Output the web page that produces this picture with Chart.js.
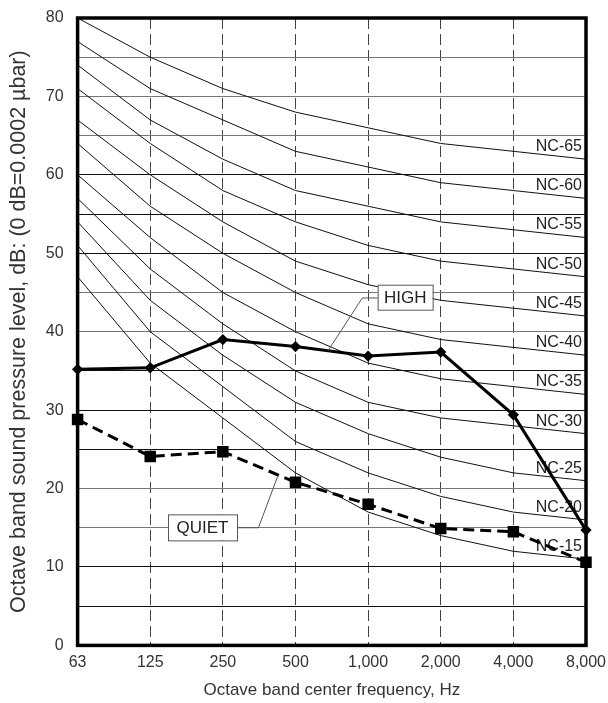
<!DOCTYPE html>
<html>
<head>
<meta charset="utf-8">
<script src="https://cdn.jsdelivr.net/npm/chart.js@4.4.1/dist/chart.umd.min.js"></script>
<style>
  body { margin: 0; background: #fff; }
  #chart { display: block; }
</style>
</head>
<body>
<canvas id="chart" width="608" height="703"></canvas>
<script>
const freqLabels = ["63", "125", "250", "500", "1,000", "2,000", "4,000", "8,000"];

// NC curves, dB per octave band
const nc15 = [47, 36, 29, 22, 17, 14, 12, 11];
const nc20 = [51, 40, 33, 26, 22, 19, 17, 16];
const nc25 = [54, 44, 37, 31, 27, 24, 22, 21];
const nc30 = [57, 48, 41, 35, 31, 29, 28, 27];
const nc35 = [60, 52, 45, 40, 36, 34, 33, 32];
const nc40 = [64, 56, 50, 45, 41, 39, 38, 37];
const nc45 = [67, 60, 54, 49, 46, 44, 43, 42];
const nc50 = [71, 64, 58, 54, 51, 49, 48, 47];
const nc55 = [74, 67, 62, 58, 56, 54, 53, 52];
const nc60 = [77, 71, 67, 63, 61, 59, 58, 57];
const nc65 = [80, 75, 71, 68, 66, 64, 63, 62];
const ncNames = ["NC-15", "NC-20", "NC-25", "NC-30", "NC-35", "NC-40", "NC-45", "NC-50", "NC-55", "NC-60", "NC-65"];
const ncCurves = [nc15, nc20, nc25, nc30, nc35, nc40, nc45, nc50, nc55, nc60, nc65];

// measured spectra
const highLevels = [35.2, 35.4, 39.0, 38.1, 36.9, 37.4, 29.4, 14.7];
const quietLevels = [28.8, 24.1, 24.7, 20.8, 18.0, 14.9, 14.5, 10.6];

const yTicks = [0, 10, 20, 30, 40, 50, 60, 70, 80];
const greyGrid = [15, 20, 40, 45, 65, 70, 75];

const datasets = [
    {
        label: "HIGH",
        data: highLevels,
        borderColor: "#000",
        backgroundColor: "#000",
        borderWidth: 3,
        pointStyle: "rectRot",
        pointRadius: 3.5,
        tension: 0,
    },
    {
        label: "QUIET",
        data: quietLevels,
        borderColor: "#000",
        backgroundColor: "#000",
        borderWidth: 3,
        borderDash: [11, 6],
        pointStyle: "rect",
        pointRadius: 6,
        tension: 0,
    },
];
ncCurves.forEach((curve, i) => {
    datasets.push({
        label: ncNames[i],
        data: curve,
        borderColor: "#111",
        borderWidth: 1,
        pointRadius: 0,
        tension: 0,
    });
});

// scale label overflow is handled by the layout padding below
function noEdgePadding(scale) {
    scale.paddingTop = 0;
    scale.paddingRight = 0;
    scale.paddingLeft = 0;
    scale.paddingBottom = 0;
}

// NC labels and call-out boxes
const annotate = {
    id: "annotate",
    beforeDatasetsDraw(chart) {
        const { ctx, chartArea, scales } = chart;
        ctx.save();
        ctx.font = "16px Arial";
        ctx.fillStyle = "#222";
        ctx.textAlign = "right";
        ctx.textBaseline = "middle";
        ncCurves.forEach((curve, i) => {
            const y = scales.y.getPixelForValue(curve[7] + 1.6);
            ctx.fillText(ncNames[i], chartArea.right - 4, y);
        });
        ctx.restore();
    },
    afterDatasetsDraw(chart) {
        const { ctx, chartArea, scales } = chart;
        const px = (v) => scales.x.getPixelForValue(v);
        const py = (v) => scales.y.getPixelForValue(v);
        ctx.save();

        function callout(text, cx, cy, w, h, pts) {
            ctx.strokeStyle = "#555";
            ctx.lineWidth = 1;
            ctx.beginPath();
            pts.forEach((p, k) => {
                if (k === 0) ctx.moveTo(px(p[0]), py(p[1]));
                else ctx.lineTo(px(p[0]), py(p[1]));
            });
            ctx.stroke();
            const x = px(cx), y = py(cy);
            ctx.fillStyle = "#fff";
            ctx.fillRect(x - w / 2, y - h / 2, w, h);
            ctx.strokeRect(x - w / 2 + 0.5, y - h / 2 + 0.5, w, h);
            ctx.fillStyle = "#222";
            ctx.font = "17px Arial";
            ctx.textAlign = "center";
            ctx.textBaseline = "middle";
            ctx.fillText(text, x, y + 1);
        }

        callout("HIGH", 4.51, 44.4, 55, 25, [[4.2, 44.3], [3.92, 44.3], [3.45, 37.6]]);
        callout("QUIET", 1.72, 15.05, 69, 26, [[2.1, 15.0], [2.49, 15.0], [2.76, 21.7]]);

        ctx.strokeStyle = "#000";
        ctx.lineWidth = 3.5;
        ctx.strokeRect(chartArea.left, chartArea.top, chartArea.right - chartArea.left, chartArea.bottom - chartArea.top);
        ctx.restore();
    },
};

new Chart(document.getElementById("chart").getContext("2d"), {
    type: "line",
    data: {
        labels: freqLabels,
        datasets: datasets,
    },
    options: {
        responsive: false,
        animation: false,
        layout: { autoPadding: false, padding: { top: 18, right: 22, left: 2, bottom: 0 } },
        plugins: {
            legend: { display: false },
            tooltip: { enabled: false },
        },
        scales: {
            x: {
                type: "category",
                offset: false,
                afterFit: noEdgePadding,
                grid: { color: "#444", lineWidth: 1, drawTicks: false },
                border: { display: false, dash: [11, 5] },
                ticks: { color: "#333", font: { family: "Arial", size: 16 }, padding: 8, maxRotation: 0, autoSkip: false },
                title: {
                    display: true,
                    text: "Octave band center frequency, Hz",
                    color: "#333",
                    font: { family: "Arial", size: 17 },
                    padding: { top: 0, bottom: 2 },
                },
            },
            y: {
                min: 0,
                max: 80,
                afterFit: noEdgePadding,
                grid: {
                    drawTicks: false,
                    lineWidth: 1,
                    color: (c) => (greyGrid.includes(c.tick.value) ? "#777" : "#111"),
                },
                border: { display: false },
                ticks: {
                    stepSize: 5,
                    color: "#333",
                    font: { family: "Arial", size: 16 },
                    padding: 14,
                    callback: (v) => (yTicks.includes(v) ? v : ""),
                },
                title: {
                    display: true,
                    text: "Octave band sound pressure level, dB: (0 dB=0.0002 µbar)",
                    color: "#333",
                    font: { family: "Arial", size: 21.5 },
                    padding: { top: 4, bottom: 0 },
                },
            },
        },
    },
    plugins: [annotate],
});
</script>
</body>
</html>
